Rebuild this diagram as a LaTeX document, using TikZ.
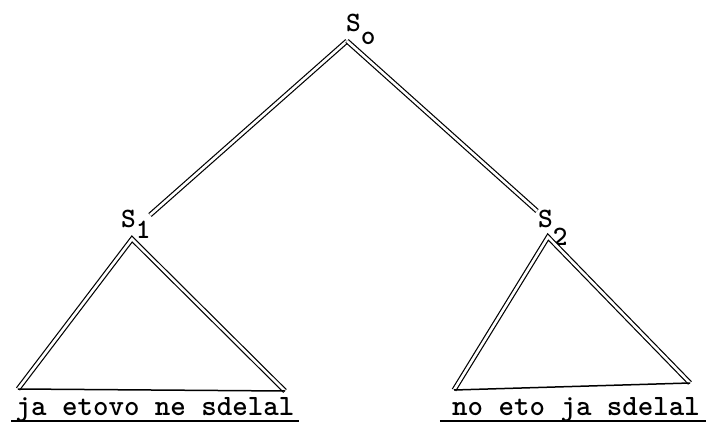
\documentclass[tikz,border=0pt]{standalone}
\usetikzlibrary{positioning, calc}
\tikzset{
  branch/.style={double, double distance=2.6pt, line width=1.2pt},
  base/.style={line width=1.5pt},
  lab/.style={font=\ttfamily\bfseries\fontsize{28}{30}\selectfont, inner sep=0pt, anchor=base west},
  leaf/.style={font=\ttfamily\bfseries\fontsize{29.5}{32}\selectfont, inner sep=0pt, anchor=base},
  uline/.style={line width=1.8pt}
}
\begin{document}
\begin{tikzpicture}[x=1pt, y=-1pt]
  \useasboundingbox (0,0) rectangle (715,425);
  % tree points
  \coordinate (top) at (347,41);
  \coordinate (endL) at (150,215);
  \coordinate (endR) at (537,211);
  \coordinate (apexL) at (132,239);
  \coordinate (apexR) at (548,237);
  \coordinate (bl1) at (18,389);
  \coordinate (br1) at (285,391);
  \coordinate (bl2) at (454,390);
  \coordinate (br2) at (690,383);
  % labels
  \node[lab] (s0) at (346,32) {S\raisebox{-13pt}{o}};
  \node[lab] (s1) at (121,227) {S\raisebox{-11pt}{1}};
  \node[lab] (s2) at (538,227) {S\raisebox{-18pt}{2}};
  % branches
  \draw[branch] (top) -- (endL);
  \draw[branch] (top) -- (endR);
  \draw[branch] (bl1) -- (apexL) -- (br1);
  \draw[base] (bl1) -- (br1);
  \draw[branch] (bl2) -- (apexR) -- (br2);
  \draw[base] (bl2) -- (br2);
  % leaves
  \node[leaf] (txtL) at (155,415) {ja etovo ne sdelal};
  \node[leaf] (txtR) at (576,415) {no eto ja sdelal};
  \draw[uline] ($(txtL.base west)+(-4,6)$) -- ($(txtL.base east)+(4,6)$);
  \draw[uline] ($(txtR.base west)+(-12,6)$) -- ($(txtR.base east)+(6,6)$);
\end{tikzpicture}
\end{document}
